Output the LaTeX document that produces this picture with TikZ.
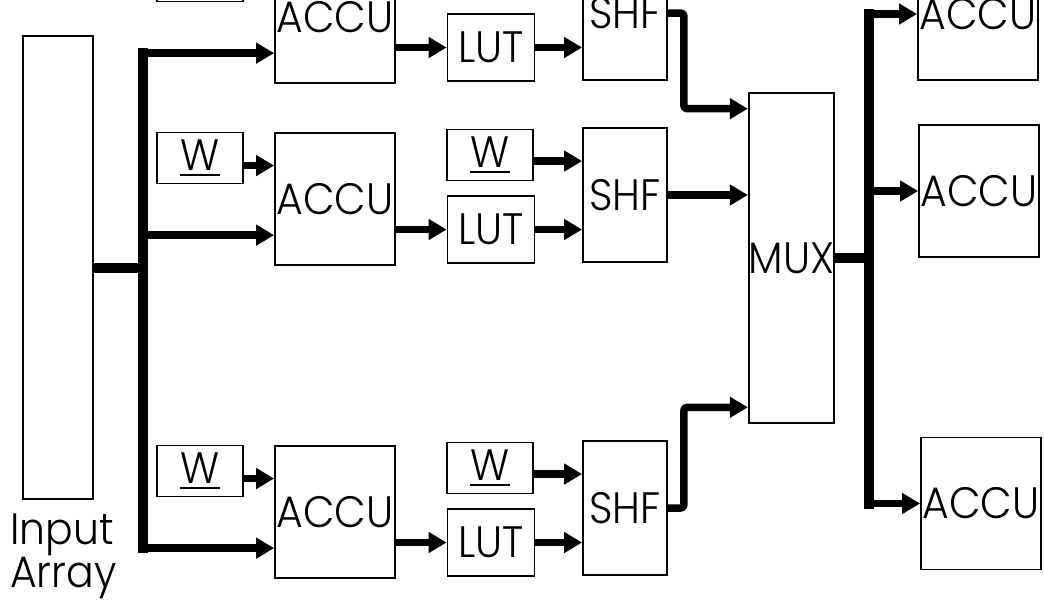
\documentclass[tikz,border=0pt]{standalone}
\usepackage{fontspec}
\newfontfamily\blockfont[FakeStretch=0.93, UprightFont={* Light}]{Poppins}
\usetikzlibrary{arrows.meta, calc, positioning}

\newcommand{\ulW}{\setbox0\hbox{W}\rlap{\rule[-6pt]{\wd0}{2.2pt}}\box0}

\begin{document}
\begin{tikzpicture}[x=1pt, y=-1pt,
  box/.style={draw, line width=1.8pt, inner sep=0pt,
              font=\blockfont\fontsize{44}{44}\selectfont},
  accu/.style={box, minimum width=120pt, minimum height=132pt},
  wbox/.style={box, minimum width=86pt, minimum height=51pt},
  lut/.style={box, minimum width=87pt, minimum height=67pt},
  shf/.style={box, minimum width=84pt, minimum height=134pt},
  link/.style={line width=7.5pt, line join=round, rounded corners=3pt,
               -{Triangle[length=18pt, width=20pt]}},
  bus/.style={line width=10pt},
]
\useasboundingbox (0,0) rectangle (1044,606);

% input array
\node[box, minimum width=70pt, minimum height=463pt] (inp) at (58,267.5) {};
\node[anchor=north west, inner sep=0pt, align=left,
      font=\blockfont\fontsize{44}{40}\selectfont] (lbl)
      at ($(inp.south west)+(-12,14)$) {Input\\Array};

% three processing rows (the top one runs off the page)
\foreach \r/\dy in {1/-182, 2/0, 3/313} {
  \node[wbox] (wl\r) at (200,{158+\dy}) {\ifnum\r>1 \ulW\fi};
  \node[accu] (acc\r) at (335,{199+\dy}) {ACCU};
  \node[wbox] (wr\r) at (490,{155+\dy}) {\ifnum\r>1 \ulW\fi};
  \node[lut] (lut\r) at (491,{229.5+\dy}) {LUT};
  \node[shf] (shf\r) at (625,{195+\dy}) {SHF};
  \coordinate (ain\r) at ($(acc\r.north west)!0.25!(acc\r.south west)$);
  \coordinate (bin\r) at ($(acc\r.north west)!0.77!(acc\r.south west)$);
  \coordinate (sin\r) at ($(shf\r.north west)!0.25!(shf\r.south west)$);
  \draw[link] (wl\r.east |- ain\r) -- (ain\r);
  \draw[link] (acc\r.east |- lut\r) -- (lut\r.west);
  \draw[link] (wr\r.east |- sin\r) -- (sin\r);
  \draw[link] (lut\r.east) -- (lut\r.east -| shf\r.west);
}

% multiplexer and output accumulators
\node[box, minimum width=85pt, minimum height=330pt] (mux) at (791.5,258) {MUX};
\node[accu] (oacc1) at (978,14) {ACCU};
\node[accu] (oacc2) at (979,191) {ACCU};
\node[accu] (oacc3) at (981,503.5) {ACCU};

% input bus
\coordinate (lb) at ($(inp.east)+(49,0)$);
\draw[bus] (inp.east) -- (lb);
\draw[bus, line cap=rect] (lb |- bin1) -- (lb |- bin3);
\foreach \r in {1,2,3}
  \draw[link] (lb |- bin\r) -- (bin\r);

% shifters into mux
\coordinate (m1) at ($(mux.north west)!0.05!(mux.south west)$);
\coordinate (m3) at ($(mux.north west)!0.95!(mux.south west)$);
\draw[link] (shf1.east) -- ++(16,0) |- (m1);
\draw[link] (shf2.east) -- (shf2.east -| mux.west);
\draw[link] (shf3.east) -- ++(16,0) |- (m3);

% output bus
\coordinate (rb) at ($(mux.east)+(34,0)$);
\draw[bus] (mux.east) -- (rb);
\draw[bus, line cap=rect] (rb |- oacc1) -- (rb |- oacc3);
\foreach \r in {1,2,3}
  \draw[link] (rb |- oacc\r) -- (oacc\r.west);
\end{tikzpicture}
\end{document}
